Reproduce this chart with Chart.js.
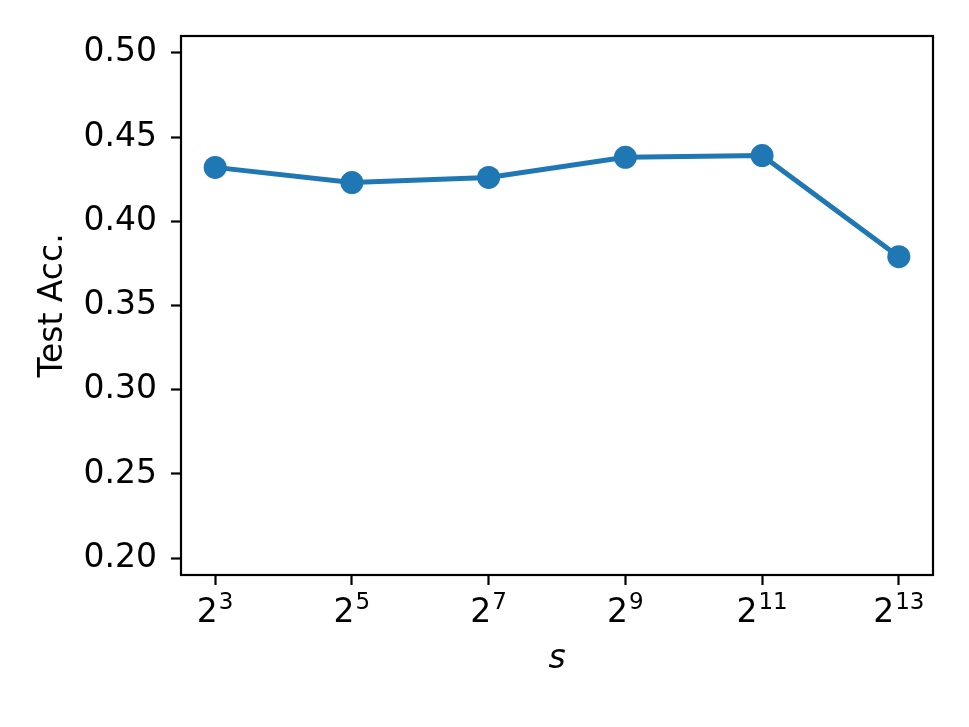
<!DOCTYPE html>
<html>
<head>
<meta charset="utf-8">
<script src="https://cdn.jsdelivr.net/npm/chart.js@4"></script>
<style>
  html, body { margin: 0; padding: 0; background: #fff; }
  #wrap { width: 969px; height: 727px; }
</style>
</head>
<body>
<div id="wrap"><canvas id="accChart" width="969" height="727"></canvas></div>
<script>
// data
const sExponents = [3, 5, 7, 9, 11, 13];
const testAcc = [0.432, 0.423, 0.426, 0.438, 0.439, 0.379];
const yTicks = [0.20, 0.25, 0.30, 0.35, 0.40, 0.45, 0.50];

const FONT = "'DejaVu Sans', sans-serif";
const blue = '#1f77b4';

// frame + power-of-two tick labels
const framePlugin = {
    id: 'frame',
    afterDraw(chart) {
        const { ctx, chartArea: a } = chart;
        ctx.save();
        ctx.strokeStyle = '#000';
        ctx.lineWidth = 2.2;
        ctx.strokeRect(a.left, a.top, a.right - a.left, a.bottom - a.top);

        const xs = chart.scales.x;
        const baseY = a.bottom + 47;
        sExponents.forEach((e, i) => {
            const cx = xs.getPixelForValue(i);
            ctx.fillStyle = '#000';
            ctx.font = '33px ' + FONT;
            const wBase = ctx.measureText('2').width;
            ctx.font = '23px ' + FONT;
            const wExp = ctx.measureText(String(e)).width;
            const x0 = cx - (wBase + wExp + 1) / 2;
            ctx.textAlign = 'left';
            ctx.textBaseline = 'alphabetic';
            ctx.font = '33px ' + FONT;
            ctx.fillText('2', x0, baseY);
            ctx.font = '23px ' + FONT;
            ctx.fillText(String(e), x0 + wBase + 1, baseY - 13);
        });
        ctx.restore();
    }
};

const ctx = document.getElementById('accChart').getContext('2d');
new Chart(ctx, {
    type: 'line',
    data: {
        datasets: [{
            data: testAcc.map((v, i) => ({ x: i, y: v })),
            borderColor: blue,
            backgroundColor: blue,
            borderWidth: 5,
            pointRadius: 11.5,
            pointHoverRadius: 11.5,
            pointBorderWidth: 0,
            tension: 0,
            fill: false
        }]
    },
    options: {
        responsive: false,
        animation: false,
        events: [],
        layout: { padding: { top: 36, right: 36, left: 0, bottom: 0 } },
        plugins: { legend: { display: false }, tooltip: { enabled: false } },
        scales: {
            x: {
                type: 'linear',
                min: -0.25,
                max: 5.25,
                afterBuildTicks: s => { s.ticks = sExponents.map((e, i) => ({ value: i })); },
                afterFit: s => { s.height = 152; },
                border: { display: false },
                grid: { drawOnChartArea: false, drawTicks: true, tickLength: 10, tickWidth: 2.2, tickColor: '#000' },
                ticks: { callback: () => '', font: { size: 33, family: FONT } },
                title: { display: true, text: 's', color: '#000', font: { size: 33, family: FONT, style: 'italic' }, padding: { top: 0, bottom: 48 } }
            },
            y: {
                min: 0.19,
                max: 0.51,
                afterBuildTicks: s => { s.ticks = yTicks.map(v => ({ value: v })); },
                afterFit: s => { s.width = 181; },
                border: { display: false },
                grid: { drawOnChartArea: false, drawTicks: true, tickLength: 10, tickWidth: 2.2, tickColor: '#000' },
                ticks: { color: '#000', padding: 14, font: { size: 33, family: FONT }, callback: v => v.toFixed(2) },
                title: { display: true, text: 'Test Acc.', color: '#000', font: { size: 33, family: FONT }, padding: { top: 34, bottom: 0 } }
            }
        }
    },
    plugins: [framePlugin]
});
</script>
</body>
</html>
